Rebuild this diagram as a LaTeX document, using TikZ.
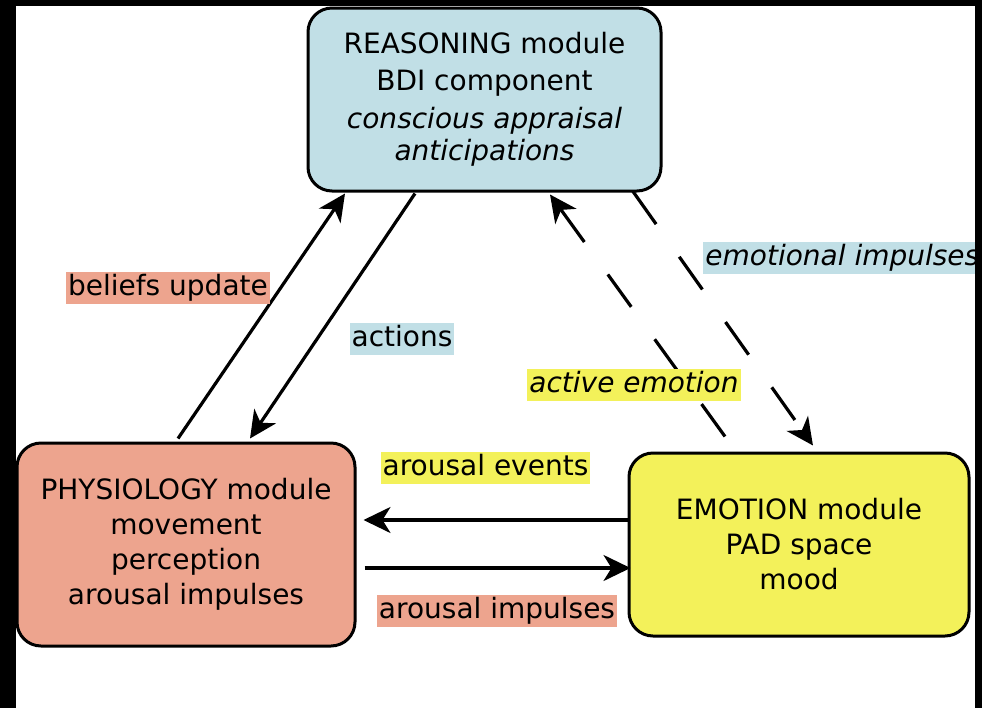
\documentclass[tikz,border=0pt]{standalone}
\usepackage{fontspec}
\setmainfont{DejaVu Sans}
\usetikzlibrary{arrows.meta}
\definecolor{cblue}{HTML}{C1DFE6}
\definecolor{csalmon}{HTML}{EDA48E}
\definecolor{cyellow}{HTML}{F3F15A}
\tikzset{
  modbox/.style={draw=black, line width=1.5pt, rounded corners=12pt, align=center,
    font=\fontsize{14}{17.5}\selectfont, inner sep=0pt},
  lbl/.style={font=\fontsize{14}{17.5}\selectfont, inner xsep=1pt, inner ysep=0.75pt,
    text height=11pt, text depth=3.5pt},
  arr/.style={line width=1.6pt, -{Stealth[length=13.5pt,width=13pt,inset=4pt]}},
  dsh/.style={arr, dash pattern=on 20pt off 20pt},
}
\begin{document}
\begin{tikzpicture}[x=0.5pt,y=-0.5pt]
\useasboundingbox (0,0) rectangle (982,708);
\fill[white] (0,0) rectangle (982,708);

\node[modbox, fill=cblue, minimum width=176.5pt, minimum height=91.5pt] (reason) at (484.5,99.5)
  {REASONING module\\[1pt]BDI component\\[1.5pt]\textit{conscious appraisal}\\[-1.5pt]\textit{anticipations}};
\node[modbox, fill=csalmon, minimum width=169pt, minimum height=101.5pt] (phys) at (186,544.5)
  {PHYSIOLOGY module\\movement\\perception\\arousal impulses};
\node[modbox, fill=cyellow, minimum width=170pt, minimum height=91.5pt] (emo) at (799,544.5)
  {EMOTION module\\PAD space\\mood};

% connectors
\draw[arr] ([xshift=-4pt,yshift=1.5pt]phys.north) -- ([xshift=-69.75pt,yshift=-0.5pt]reason.south);
\draw[arr] ([xshift=-34.75pt,yshift=-0.5pt]reason.south) -- ([xshift=32pt,yshift=1.5pt]phys.north);
\draw[dsh] ([xshift=-37pt,yshift=7.5pt]emo.north) -- ([xshift=32.75pt,yshift=-1pt]reason.south);
\draw[dsh] ([xshift=74.25pt,yshift=0.5pt]reason.south) -- ([xshift=7pt,yshift=3pt]emo.north);
\draw[arr] ([xshift=0.5pt,yshift=12.25pt]emo.west) -- ([xshift=3.5pt,yshift=12.25pt]phys.east);
\draw[arr] ([xshift=4pt,yshift=-11.75pt]phys.east) -- ([xshift=1.5pt,yshift=-11.75pt]emo.west);

% labels
\node[lbl, fill=csalmon] (lbu) at (168,288) {beliefs update};
\node[lbl, fill=cblue] (lac) at (402,339) {actions};
\node[lbl, fill=cblue, anchor=west] (lei) at (703,257.5) {\textit{emotional impulses}};
\node[lbl, fill=cyellow] (lae) at (634,384.5) {\textit{active emotion}};
\node[lbl, fill=cyellow] (lev) at (485.5,468) {arousal events};
\node[lbl, fill=csalmon] (lai) at (497,611) {arousal impulses};

% black frame strips
\fill[black] (0,0) rectangle (16,708);
\fill[black] (0,0) rectangle (982,6);
\fill[black] (975,0) rectangle (982,708);
\end{tikzpicture}
\end{document}
